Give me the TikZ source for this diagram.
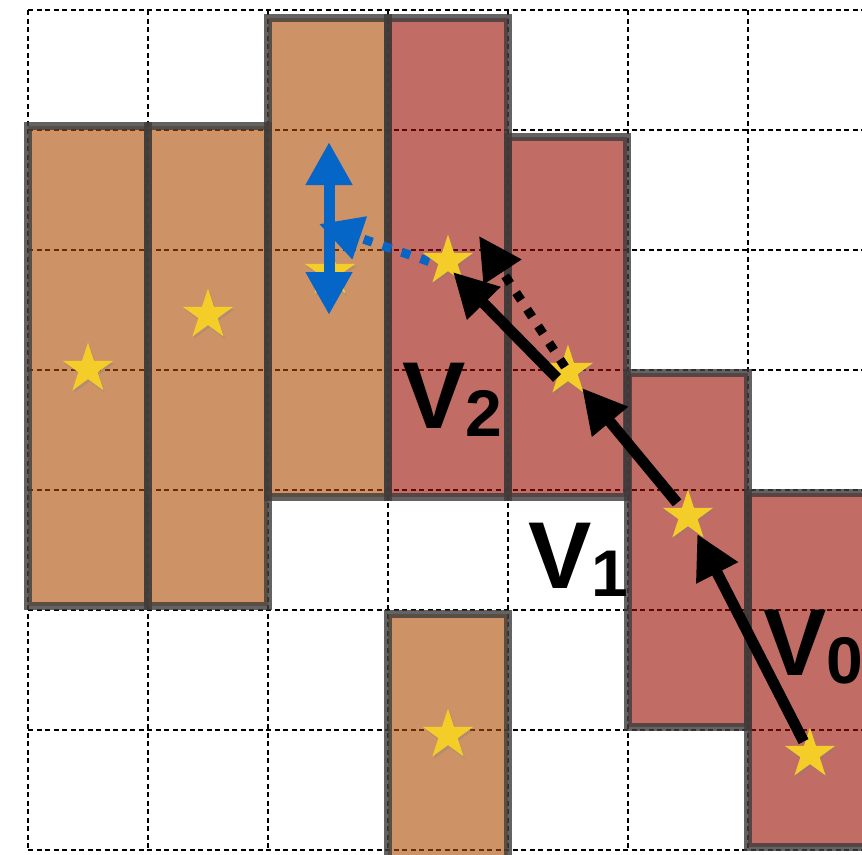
\documentclass[tikz,border=0pt]{standalone}
\usepackage{fontspec}
\newfontfamily\labfont{Liberation Sans}
\usetikzlibrary{arrows.meta,shapes.geometric,shadows,calc}
\definecolor{ofill}{RGB}{172,75,3}
\definecolor{rfill}{RGB}{153,13,0}
\definecolor{bordergray}{RGB}{60,60,60}
\definecolor{staryellow}{RGB}{245,205,40}
\definecolor{vblue}{RGB}{5,102,200}
\newcommand\lsub[1]{\raisebox{-8pt}{\fontsize{66}{66}\selectfont #1}}
\tikzset{
  gridline/.style={black, line width=2.6pt, dash pattern=on 5pt off 3.5pt},
  blockO/.style={fill=ofill, fill opacity=0.6, draw=bordergray, draw opacity=0.8, line width=8pt},
  blockR/.style={blockO, fill=rfill},
  starmark/.style={star, star points=5, star point ratio=2.618, minimum size=53pt,
    inner sep=0pt, fill=staryellow, draw=none,
    drop shadow={opacity=0.3, shadow xshift=1.5pt, shadow yshift=-2.5pt}},
  vec/.style={black, line width=11pt, -{Triangle[length=44pt,width=44pt]}},
  dotvec/.style={black, line width=9pt, dash pattern=on 9pt off 11pt, -{Triangle[length=43pt,width=43pt]}},
  bdotvec/.style={vblue, line width=9pt, dash pattern=on 9pt off 11pt, -{Triangle[length=43pt,width=43pt]}},
  bvec/.style={vblue, line width=11pt, {Triangle[length=43pt,width=44pt]}-{Triangle[length=43pt,width=44pt]}},
  lab/.style={anchor=base west, inner sep=0pt, font=\labfont\bfseries\fontsize{95}{95}\selectfont}
}
\begin{document}
\begin{tikzpicture}[x=1pt,y=-1pt]
\useasboundingbox (0,0) rectangle (862,854);
\clip (0,0) rectangle (862,854);
\fill[white] (0,0) rectangle (862,854);
% grid
\foreach \x in {28,148,...,868} \draw[gridline] (\x,10) -- (\x,850);
\foreach \y in {10,130,...,850} \draw[gridline] (28,\y) -- (868,\y);
% blocks
\draw[blockO] (28,126) rectangle (148,606);
\draw[blockO] (148,126) rectangle (268,606);
\draw[blockO] (268,18) rectangle (388,497);
\draw[blockR] (388,18) rectangle (508,497);
\draw[blockR] (508,137) rectangle (627,497);
\draw[blockR] (628,373) rectangle (748,727);
\draw[blockR] (748,493) rectangle (880,847);
\draw[blockO] (388,614) rectangle (508,880);
% blue dotted vector
\coordinate (c3) at (448,261);
\coordinate (b1) at (319,224);
\draw[bdotvec] ([shift={(0,7)}]c3) -- (b1);
% stars
\node[starmark] (s0) at (88,369) {};
\node[starmark] (s1) at (208,315) {};
\node[starmark] (s2) at (330,272) {};
\node[starmark] (s3) at (c3) {};
\node[starmark] (s4) at (568,371) {};
\node[starmark] (s5) at (688,516) {};
\node[starmark] (s6) at (810,754) {};
\node[starmark] (s7) at (448,735) {};
% black vectors
\draw[vec, shorten <=14pt, shorten >=20pt] (s6.center) -- (s5.center);
\draw[vec, shorten <=17pt, shorten >=22pt] (s5.center) -- (s4.center);
\draw[vec] ([shift={(-11,7)}]s4.center) -- ([shift={(5,11)}]s3.center);
\coordinate (d1) at (479,236);
\draw[dotvec] ([shift={(-3,-4)}]s4.center) -- (d1);
% blue double arrow
\coordinate (bt) at (329,142);
\coordinate (bb) at (329,315);
\draw[bvec] (bt) -- (bb);
% labels
\node[lab] (lv2) at (402,428) {V\lsub{2}};
\node[lab] (lv1) at (528,588) {V\lsub{1}};
\node[lab] (lv0) at (763,675) {V\lsub{0}};
\end{tikzpicture}
\end{document}
